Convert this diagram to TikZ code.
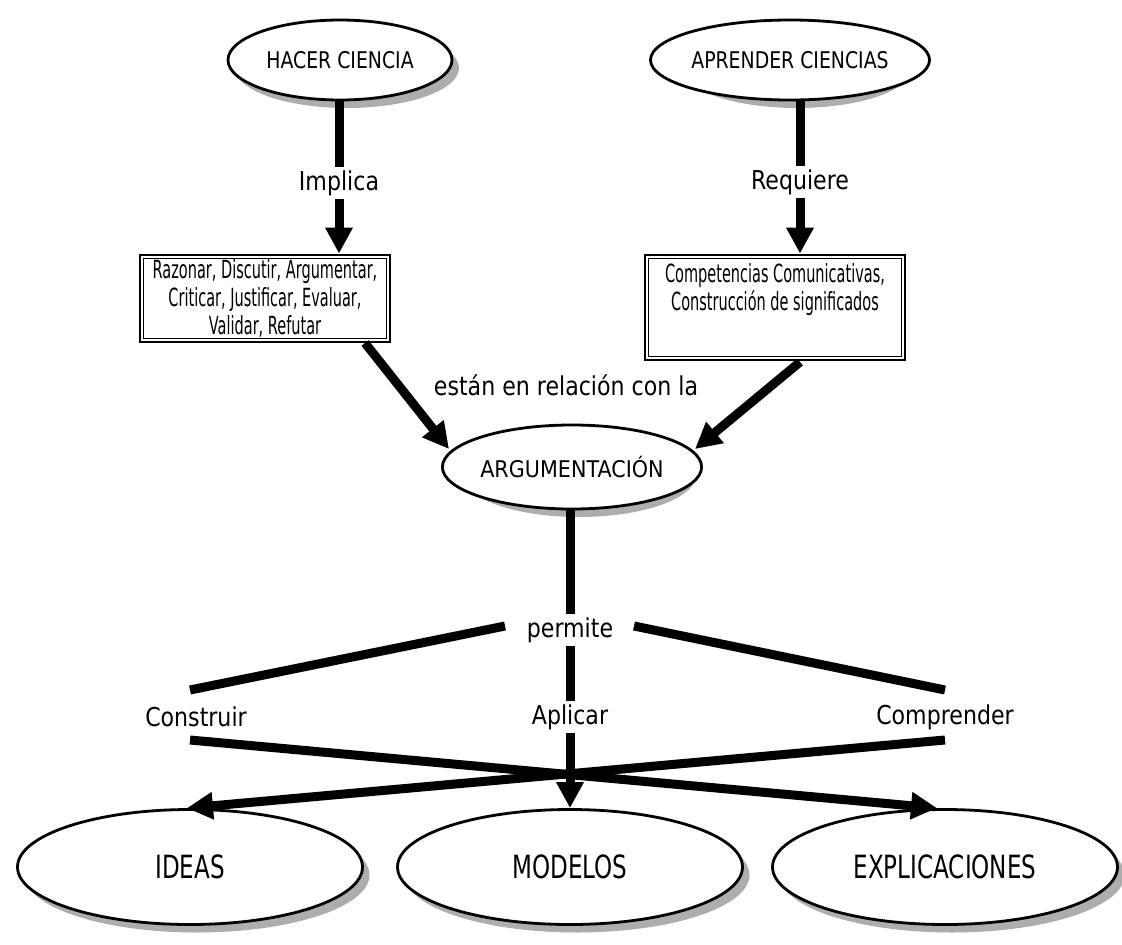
\documentclass[tikz,border=0pt]{standalone}
\usepackage{fontspec}
\setmainfont{DejaVu Sans}[FakeStretch=0.85]
\newfontfamily\boxfont{DejaVu Sans}[FakeStretch=0.58]
\newfontfamily\topfont{DejaVu Sans}[FakeStretch=0.82]
\newfontfamily\argfont{DejaVu Sans}[FakeStretch=0.9]
\newfontfamily\condfont{DejaVu Sans}[FakeStretch=0.72]
\usetikzlibrary{shapes.geometric,arrows.meta}
\definecolor{shadowc}{gray}{0.68}
\begin{document}
\begin{tikzpicture}[x=1pt,y=-1pt,
  oval/.style={ellipse, draw, line width=2.8pt, fill=white, inner sep=0pt},
  shadowfill/.style={fill=shadowc},
  bigoval/.style={oval, minimum width=345pt, minimum height=115pt, font=\condfont\fontsize{32}{36}\selectfont},
  topoval/.style={oval, minimum height=80pt, font=\topfont\fontsize{23}{26}\selectfont},
  lbl/.style={inner sep=3pt, font=\fontsize{26}{30}\selectfont},
  boxn/.style={draw, line width=2.8pt, fill=white, align=center, inner sep=0pt,
    font=\boxfont\fontsize{25}{28}\selectfont},
  conn/.style={line width=9pt},
  arr/.style={line width=9pt, -{Triangle[length=26pt,width=26pt]}}
]
\useasboundingbox (0,0) rectangle (1122,945);

% shadows of the ellipses
\fill[shadowfill] (347,68) ellipse [x radius=112, y radius=40];
\fill[shadowfill] (797,68) ellipse [x radius=115, y radius=40];
\fill[shadowfill] (579,475) ellipse [x radius=117, y radius=42];
\fill[shadowfill] (197,875) ellipse [x radius=172.5, y radius=57.5];
\fill[shadowfill] (577,875) ellipse [x radius=172.5, y radius=57.5];
\fill[shadowfill] (952,875) ellipse [x radius=172.5, y radius=57.5];

% top ellipses
\node[topoval, minimum width=224pt] (hc) at (340,60) {HACER CIENCIA};
\node[topoval, minimum width=230pt] (ac) at (790,60) {APRENDER CIENCIAS};

% labels
\node[lbl] (implica) at (339,183) {Implica};
\node[lbl] (requiere) at (800,182) {Requiere};

% boxes
\node[boxn, minimum width=250pt, minimum height=87pt] (b1) at (265,298.5)
  {Razonar, Discutir, Argumentar,\\Criticar, Justificar, Evaluar,\\Validar, Refutar};
\draw[line width=1.2pt] ([shift={(5,5)}]b1.north west) rectangle ([shift={(-5,-5)}]b1.south east);
\node[boxn, minimum width=260pt, minimum height=105pt] (b2) at (775,307.5)
  {Competencias Comunicativas,\\Construcción de significados\\[14pt]~};
\draw[line width=1.2pt] ([shift={(5,5)}]b2.north west) rectangle ([shift={(-5,-5)}]b2.south east);

\node[lbl] (rel) at (566,385) {están en relación con la};

% argumentacion
\node[oval, minimum width=234pt, minimum height=84pt, font=\argfont\fontsize{23}{26}\selectfont] (arg) at (572,467) {ARGUMENTACIÓN};

\node[lbl] (permite) at (570,630) {permite};
\node[lbl] (construir) at (196,717) {Construir};
\node[lbl] (aplicar) at (570,717) {Aplicar};
\node[lbl] (comprender) at (945,717) {Comprender};

% bottom ellipses
\node[bigoval] (ideas) at (190,867) {IDEAS};
\node[bigoval] (modelos) at (570,867) {MODELOS};
\node[bigoval] (expl) at (945,867) {EXPLICACIONES};

% connectors top
\draw[conn] (implica |- hc.south) -- (implica.north);
\draw[arr] (implica.south) -- (implica |- b1.north);
\draw[conn] (requiere |- ac.south) -- (requiere.north);
\draw[arr] (requiere.south) -- (requiere |- b2.north);

\coordinate (s1) at (365,343);
\coordinate (e1) at (449,449);
\coordinate (s2) at (800,362);
\coordinate (e2) at (695,449);
\draw[arr] (s1) -- (e1);
\draw[arr] (s2) -- (e2);

% permite
\draw[conn] (permite |- arg.south) -- (permite.north);
\coordinate (pl) at (505,626);
\coordinate (pr) at (634,626);
\coordinate (cu) at (190,690);
\coordinate (ku) at (945,690);
\draw[conn] (pl) -- (cu);
\draw[conn] (pr) -- (ku);
\draw[conn] (permite.south) -- (aplicar.north);

% bottom arrows
\coordinate (cl) at (190,740);
\coordinate (kl) at (945,740);
\draw[arr] (cl) -- ([xshift=-8pt]expl.north);
\draw[arr] (kl) -- ([xshift=-3pt]ideas.north);
\draw[arr] (aplicar.south) -- (modelos.north);
\end{tikzpicture}
\end{document}
